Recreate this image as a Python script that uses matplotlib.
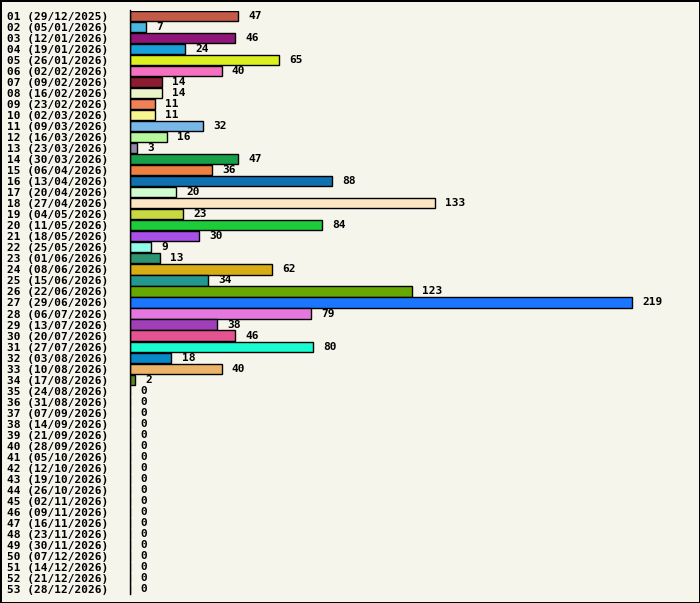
import matplotlib.pyplot as plt
import datetime as dt

weeks = [f"{i+1:02d} ({(dt.date(2025,12,29)+dt.timedelta(weeks=i)).strftime('%d/%m/%Y')})" for i in range(53)]
values = [47, 7, 46, 24, 65, 40, 14, 14, 11, 11, 32, 16, 3, 47, 36, 88, 20, 133, 23, 84,
          30, 9, 13, 62, 34, 123, 219, 79, 38, 46, 80, 18, 40, 2] + [0] * 19
colors = ["#c45a48", "#48b8e0", "#901578", "#18a0d8", "#dcf020", "#f470c0", "#8c1c30", "#eaf4c8",
          "#f08058", "#f8f490", "#78b8e8", "#b8f89c", "#9088a8", "#18a048", "#ec8040", "#1070b0",
          "#d0fcd0", "#fde6c4", "#c8d840", "#1ccc38", "#a850e8", "#90fce8", "#2c9470", "#d8ac14",
          "#249890", "#66a800", "#1a75ff", "#e478e0", "#a040b8", "#e45490", "#18fcd0", "#0888c8",
          "#ecb468", "#5a8a20"] + ["#888888"] * 19

fig = plt.figure(figsize=(7, 6.03), dpi=100)
bg = "#f5f5eb"
fig.patch.set_facecolor(bg)
fig.patch.set_edgecolor("black")
fig.patch.set_linewidth(2)
ax = fig.add_axes([130/700, 1 - 594.5/603, 568/700, 584/603])
ax.set_facecolor(bg)
y = list(range(53))
ax.barh(y, values, height=0.92, color=colors, edgecolor="black", linewidth=1)
for yi, v in zip(y, values):
    ax.text(v + 4.5, yi, str(v), va="center", ha="left", family="DejaVu Sans Mono",
            fontweight="bold", fontsize=8)
ax.set_ylim(52.5, -0.5)
ax.set_xlim(0, 248)
ax.set_yticks(y)
ax.set_yticklabels(weeks, family="DejaVu Sans Mono", fontweight="bold", fontsize=8)
ax.tick_params(axis="y", length=0, pad=16)
ax.set_xticks([])
for s in ["top", "right", "bottom"]:
    ax.spines[s].set_visible(False)
ax.spines["left"].set_linewidth(1)
fig.savefig("out.png", facecolor=fig.get_facecolor(), edgecolor=fig.get_edgecolor())
